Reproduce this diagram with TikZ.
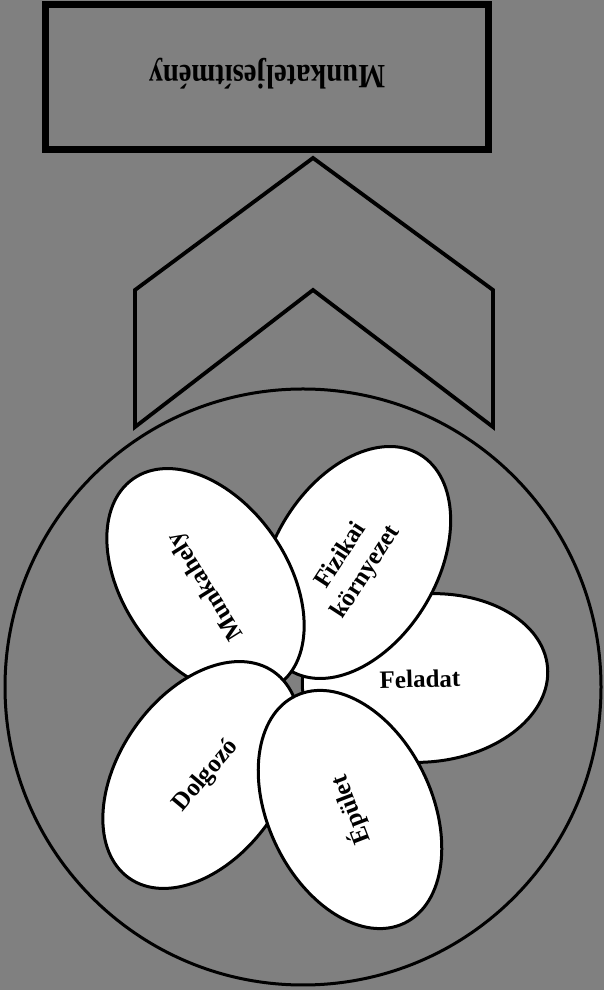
\documentclass[tikz,border=0pt]{standalone}
\usepackage{fontspec}
\setmainfont{Liberation Serif}
\usetikzlibrary{shapes.geometric}
\definecolor{bggray}{RGB}{128,128,128}
\tikzset{
  petal/.style={draw=black, fill=white, line width=3pt, ellipse, inner sep=0pt,
    minimum width=252pt, minimum height=164pt},
  petaltext/.style={inner sep=0pt, font=\fontsize{25}{30}\selectfont\bfseries, align=center},
  titlebox/.style={draw=black, line width=6.5pt, inner sep=0pt,
    minimum width=443pt, minimum height=145pt, text height=22pt, text depth=0pt},
  chevron/.style={draw=black, line width=3.8pt, line join=miter},
  envcircle/.style={draw=black, circle, line width=3pt, inner sep=0pt, minimum size=596pt}
}
\begin{document}
\begin{tikzpicture}[x=1pt,y=1pt]
  \useasboundingbox (0,0) rectangle (604,990);
  \fill[bggray] (0,0) rectangle (604,990);
  % top box
  \node[titlebox, rotate=180] (perf) at (267,913)
    {\scalebox{0.84}[1]{\fontsize{34}{40}\selectfont\bfseries Munkateljesítmény}};
  % chevron arrow
  \coordinate (c1) at (135,700);
  \coordinate (c2) at (313,832);
  \coordinate (c3) at (493,700);
  \coordinate (c4) at (493,563);
  \coordinate (c5) at (313,700);
  \coordinate (c6) at (135,563);
  \draw[chevron] (c1) -- (c2) -- (c3) -- (c4) -- (c5) -- (c6) -- cycle;
  % environment circle
  \node[envcircle] (env) at (303,303) {};
  % petals (bottom to top)
  \node[petal, minimum width=246pt, minimum height=168pt, rotate=5] (feladat) at (425,312) {};
  \node[petal, rotate=59] (fizikai) at (355,427.5) {};
  \node[petal, rotate=125] (munkahely) at (205.5,408) {};
  \node[petal, rotate=55] (dolgozo) at (201.5,215) {};
  \node[petal, rotate=115.5] (epulet) at (350,180.5) {};
  % labels
  \node[petaltext, rotate=1.5] (tfeladat) at (420,311) {Feladat};
  \node[petaltext, rotate=57] (tfizikai) at (354,426) {Fizikai\\környezet};
  \node[petaltext, rotate=122] (tmunkahely) at (206.5,404) {Munkahely};
  \node[petaltext, rotate=50] (tdolgozo) at (206,214) {Dolgozó};
  \node[petaltext, rotate=111] (tepulet) at (350.5,180) {Épület};
\end{tikzpicture}
\end{document}
